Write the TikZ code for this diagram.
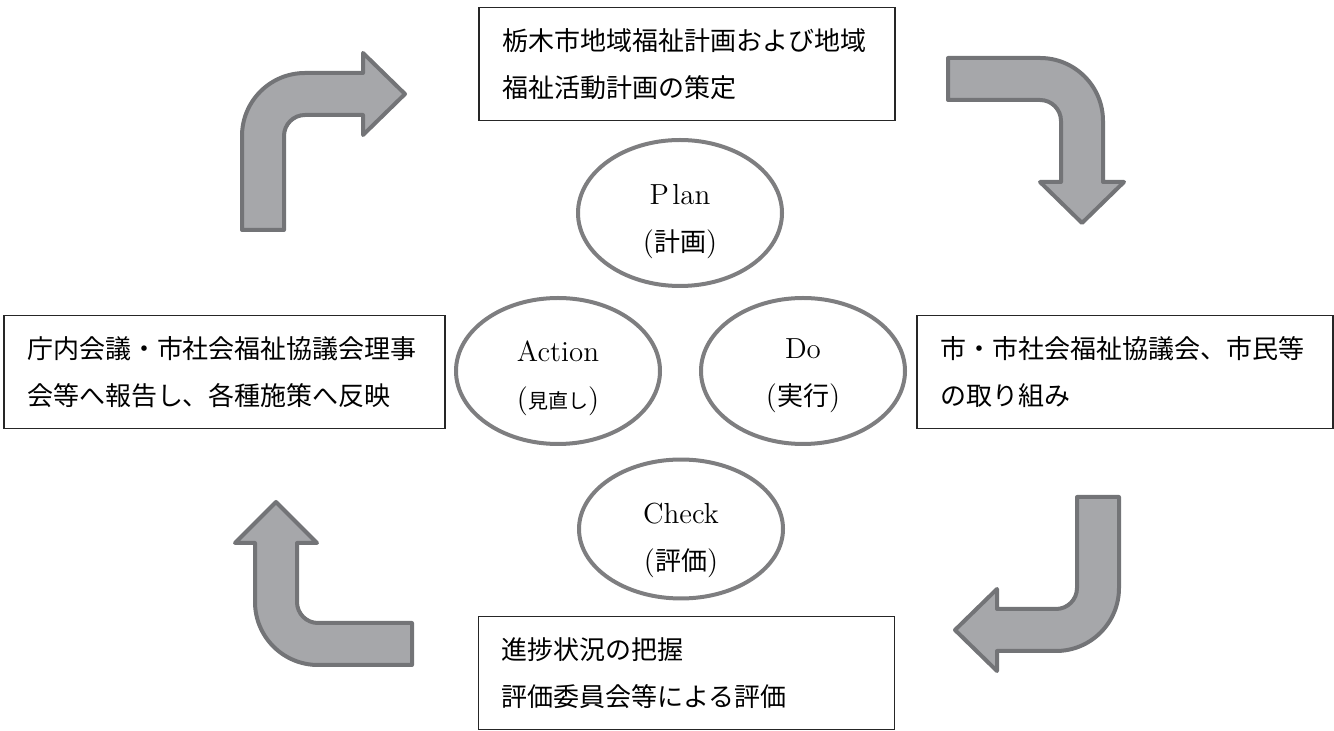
\documentclass[tikz,border=0pt]{standalone}
\usepackage{fontspec}
\newfontfamily\jpfont{Noto Sans CJK JP}
\usetikzlibrary{shapes.geometric}
\definecolor{arrowfill}{HTML}{A6A7AA}
\definecolor{arrowline}{HTML}{737477}
\definecolor{ovalline}{HTML}{7E7E80}
\newcommand{\lift}[1]{\rule{0pt}{#1}}
\tikzset{
  taskbox/.style={draw=black!85, line width=0.8pt, minimum height=56.5pt,
    inner xsep=11.5pt, inner ysep=4pt, align=left,
    font=\jpfont\fontsize{13}{23.8}\selectfont},
  phase/.style={ellipse, draw=ovalline, line width=2pt, minimum width=102pt,
    minimum height=73pt, inner sep=0pt, align=center,
    font=\fontsize{14.5}{23.5}\selectfont},
  bendarrow/.style={fill=arrowfill, draw=arrowline, line width=2pt, line join=round}
}
\begin{document}
\begin{tikzpicture}[x=0.5pt, y=-0.5pt]
  \useasboundingbox (0,0) rectangle (1334,731);

  % the four steps
  \node[taskbox, text width=185pt]   (planbox)  at (687,64)    {栃木市地域福祉計画および地域\\福祉活動計画の策定};
  \node[taskbox, text width=185pt]   (dobox)    at (1125,372)  {市・市社会福祉協議会、市民等\\の取り組み};
  \node[taskbox, text width=185pt]   (checkbox) at (686.5,673) {進捗状況の把握\\評価委員会等による評価};
  \node[taskbox, text width=197.5pt] (actbox)   at (224.5,372) {庁内会議・市社会福祉協議会理事\\会等へ報告し、各種施策へ反映};

  % PDCA ovals
  \node[phase] (plan)  at (680,213) {\lift{19pt}P\hspace{0.12em}lan\\({\jpfont\fontsize{13}{23.5}\selectfont 計画})};
  \node[phase] (do)    at (803,371) {\lift{15pt}Do\\({\jpfont\fontsize{13}{23.5}\selectfont 実行})};
  \node[phase] (act)   at (558,371) {\lift{18pt}Action\\({\jpfont\fontsize{10}{23.5}\selectfont 見直し})};
  \node[phase, minimum height=69pt] (check) at (681,529) {\lift{22pt}Check\\({\jpfont\fontsize{13}{23.5}\selectfont 評価})};

  % bent arrows
  \draw[bendarrow] (242,230) -- (242,136) arc(180:270:63) -- (363,73) -- (363,53)
    -- (405,94) -- (363,135) -- (363,115) -- (305,115) arc(270:180:21) -- (284,230) -- cycle;
  \draw[bendarrow] (948,58) -- (1040,58) arc(270:360:63) -- (1103,182) -- (1124,182)
    -- (1082,223) -- (1040,182) -- (1061,182) -- (1061,121) arc(0:-90:21) -- (948,100) -- cycle;
  \draw[bendarrow] (1077,497) -- (1119,497) -- (1119,588) arc(0:90:63) -- (997,651) -- (997,671)
    -- (955,630) -- (997,589) -- (997,609) -- (1056,609) arc(90:0:21) -- cycle;
  \draw[bendarrow] (412,623) -- (318,623) arc(90:180:21) -- (297,543) -- (317,543)
    -- (276,502) -- (235,543) -- (255,543) -- (255,602) arc(180:90:63) -- (412,665) -- cycle;
\end{tikzpicture}
\end{document}
